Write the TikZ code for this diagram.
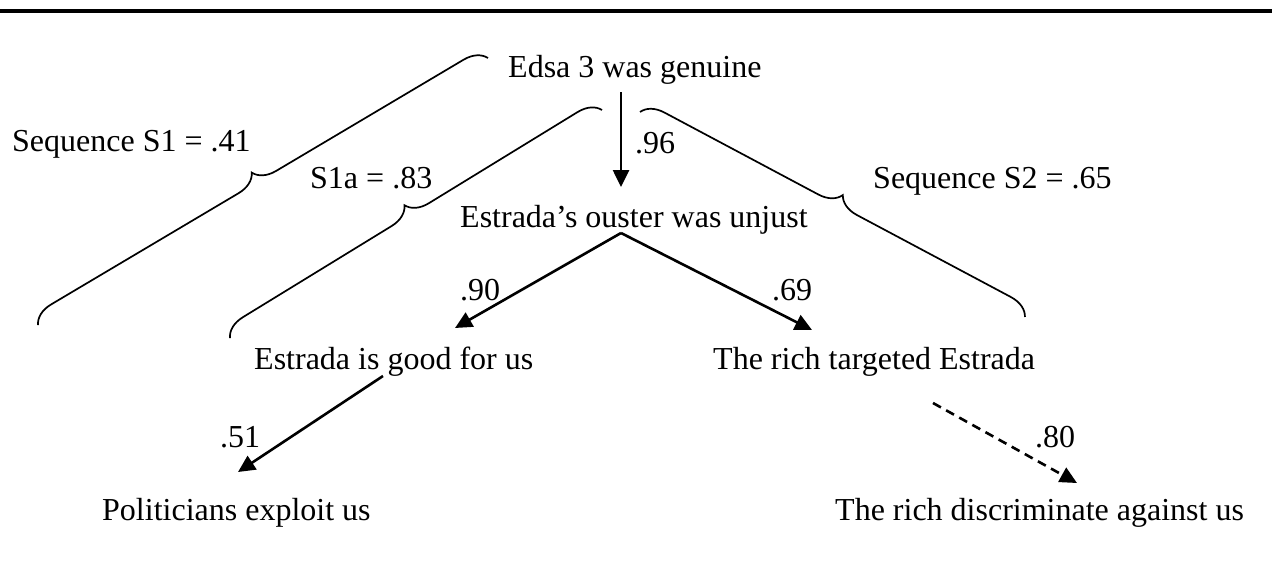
\documentclass[tikz,border=0pt]{standalone}
\usepackage{fontspec}
\setmainfont{Liberation Serif}
\usetikzlibrary{arrows.meta,decorations.pathreplacing}
\begin{document}
\begin{tikzpicture}[x=1pt,y=1pt,
  lbl/.style={anchor=base west,inner sep=0pt,font=\fontsize{32}{38}\selectfont},
  link/.style={line width=2.6pt,-{Triangle[length=17pt,width=16pt]}},
  maybelink/.style={link,dash pattern=on 9pt off 6pt},
  bracket/.style={line width=1.7pt,decorate,decoration={brace,amplitude=22pt}}]
\useasboundingbox (0,0) rectangle (1272,-563);

% rule across the top
\fill (0,-9) rectangle (1272,-13);

% statements
\node[lbl] (edsa)    at (508,-77)  {Edsa 3 was genuine};
\node[lbl] (ouster)  at (460,-227) {Estrada’s ouster was unjust};
\node[lbl] (good)    at (254,-369) {Estrada is good for us};
\node[lbl] (target)  at (713,-369) {The rich targeted Estrada};
\node[lbl] (exploit) at (102,-520) {Politicians exploit us};
\node[lbl] (discr)   at (835,-520) {The rich discriminate against us};

% weights
\node[lbl] (w96) at (635,-153)  {.96};
\node[lbl] (w90) at (460,-300)  {.90};
\node[lbl] (w69) at (772,-300)  {.69};
\node[lbl] (w51) at (220,-447)  {.51};
\node[lbl] (w80) at (1035,-447) {.80};

% sequence labels
\node[lbl] (s1)  at (12,-151)  {Sequence S1 = .41};
\node[lbl] (s1a) at (310,-188) {S1a = .83};
\node[lbl] (s2)  at (873,-188) {Sequence S2 = .65};

% arrow end points
\coordinate (edsaOut)   at (621,-92);
\coordinate (ousterIn)  at (621,-187);
\coordinate (ousterOut) at (621,-233);
\coordinate (goodIn)    at (455,-328);
\coordinate (targetIn)  at (812,-330);
\coordinate (goodOut)   at (383,-376);
\coordinate (exploitIn) at (238,-472);
\coordinate (targetOut) at (933,-403);
\coordinate (discrIn)   at (1077,-483);

\draw[link] (edsaOut) -- (ousterIn);
\draw[link] (ousterOut) -- (goodIn);
\draw[link] (ousterOut) -- (targetIn);
\draw[link] (goodOut) -- (exploitIn);
\draw[maybelink] (targetOut) -- (discrIn);

% braces grouping the sequences
\coordinate (b1a) at (38,-325);  \coordinate (b1b) at (488,-58);
\coordinate (b2a) at (230,-338); \coordinate (b2b) at (602,-110);
\coordinate (b3a) at (640,-112); \coordinate (b3b) at (1025,-317);
\draw[bracket] (b1a) -- (b1b);
\draw[bracket] (b2a) -- (b2b);
\draw[bracket] (b3a) -- (b3b);
\end{tikzpicture}
\end{document}
